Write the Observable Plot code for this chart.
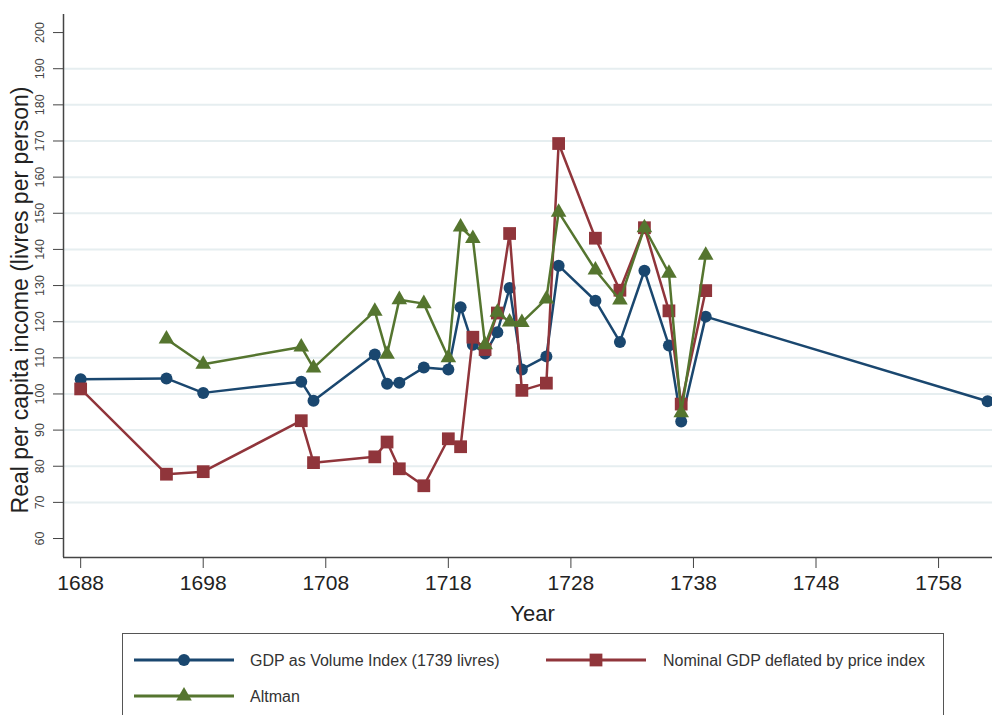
<!DOCTYPE html>
<html>
<head>
<meta charset="utf-8">
<script src="https://cdn.jsdelivr.net/npm/d3@7"></script>
<script src="https://cdn.jsdelivr.net/npm/@observablehq/plot@0.6"></script>
<style>
  html, body { margin: 0; padding: 0; background: #fff; }
  body { width: 992px; height: 715px; position: relative; overflow: hidden; font-family: "Liberation Sans", Arial, sans-serif; }
  #legend { position: absolute; left: 122px; top: 633px; width: 822px; height: 120px; border: 1px solid #555; box-sizing: border-box; background: #fff; }
</style>
</head>
<body>
<div id="chart"></div>
<div id="legend"></div>
<script>
// ---- data ----
const years = [1688,1695,1698,1706,1707,1712,1713,1714,1716,1718,1719,1720,1721,1722,1723,1724,1726,1727,1730,1732,1734,1736,1737,1739,1762];
const gdpVolume = [104.1,104.3,100.3,103.4,98.1,110.9,102.8,103.1,107.3,106.8,124,113.6,111.2,117.1,129.3,106.8,110.4,135.5,125.8,114.4,134.1,113.4,92.4,121.4,98];
const gdpDeflated = [101.4,77.8,78.5,92.6,81,82.6,86.7,79.3,74.6,87.6,85.4,115.7,112.3,122.4,144.4,101,103,169.3,143.1,128.7,146,123,97.2,128.6,null];
const altman = [null,115.2,108.2,113,107.2,122.9,111,126.1,125,110,146.2,143,113.6,122.6,119.9,119.8,126.3,150.3,134.3,126,146,133.4,94.8,138.4,null];

const seriesNames = ["GDP as Volume Index (1739 livres)", "Nominal GDP deflated by price index", "Altman"];
const seriesKeys = ["volume", "deflated", "altman"];
const seriesColors = ["#1a476f", "#90353b", "#55752f"];
const seriesSymbols = ["circle", "square", "triangle"];
const seriesR = [6, 7.2, 5.8];

const xTicks = [1688,1698,1708,1718,1728,1738,1748,1758];
const yTicks = [60,70,80,90,100,110,120,130,140,150,160,170,180,190,200];
const gridTicks = [70,80,90,100,110,120,130,140,150,160,170,180,190];
const xTitle = "Year";
const yTitle = "Real per capita income (livres per person)";

const xDomain = [1686.6, 1762.4];
const yDomain = [54.75, 205];

const rows = years.map((yr, i) => ({year: yr, volume: gdpVolume[i], deflated: gdpDeflated[i], altman: altman[i]}));

const seriesMarks = seriesKeys.flatMap((k, i) => {
  const d = rows.filter(r => r[k] != null);
  return [
    Plot.line(d, {x: "year", y: k, stroke: seriesColors[i], strokeWidth: 2.5}),
    Plot.dot(d, {x: "year", y: k, fill: seriesColors[i], symbol: seriesSymbols[i], r: seriesR[i], stroke: "none"})
  ];
});

const chart = Plot.plot({
  width: 992,
  height: 625,
  marginLeft: 63,
  marginRight: 0,
  marginTop: 14,
  marginBottom: 68,
  style: {fontFamily: "Liberation Sans, Arial, sans-serif", color: "#333", background: "#fff", overflow: "visible"},
  x: {domain: xDomain},
  y: {domain: yDomain},
  marks: [
    Plot.gridY(gridTicks, {stroke: "#e6eef0", strokeWidth: 2, strokeOpacity: 1}),
    Plot.ruleX([xDomain[0]], {stroke: "#444", strokeWidth: 1.5}),
    Plot.ruleY([yDomain[0]], {stroke: "#444", strokeWidth: 1.5}),
    Plot.axisY({ticks: yTicks, tickSize: 10, tickFormat: () => "", label: null, stroke: "#444"}),
    Plot.text(yTicks, {y: d => d, text: d => String(d), frameAnchor: "left", textAnchor: "middle", rotate: -90, dx: -23.5, lineAnchor: "middle", fontSize: 12.5, fill: "#444"}),
    Plot.axisX({ticks: xTicks, tickFormat: d => String(d), tickSize: 11, tickPadding: 7, fontSize: 21, label: null, stroke: "#444", fill: "#222"}),
    Plot.text([xTitle], {frameAnchor: "bottom", textAnchor: "middle", dx: 4.5, dy: 63, lineAnchor: "bottom", fontSize: 22, fill: "#222"}),
    Plot.text([yTitle], {frameAnchor: "left", textAnchor: "middle", rotate: -90, dx: -36, dy: 14, lineAnchor: "bottom", fontSize: 23, fill: "#222"}),
    ...seriesMarks
  ]
});
document.getElementById("chart").appendChild(chart);

// ---- legend ----
const legendPos = [
  {keyX: 11, textX: 127, cy: 26},
  {keyX: 423, textX: 540, cy: 26},
  {keyX: 11, textX: 127, cy: 62}
];
const lsvg = d3.select("#legend").append("svg").attr("width", 820).attr("height", 118)
  .style("font-family", "Liberation Sans, Arial, sans-serif");
seriesNames.forEach((name, i) => {
  const p = legendPos[i];
  const g = lsvg.append("g");
  g.append("line").attr("x1", p.keyX).attr("x2", p.keyX + 100).attr("y1", p.cy).attr("y2", p.cy)
    .attr("stroke", seriesColors[i]).attr("stroke-width", 3);
  const sym = {circle: d3.symbolCircle, square: d3.symbolSquare, triangle: d3.symbolTriangle}[seriesSymbols[i]];
  g.append("path").attr("d", d3.symbol(sym, Math.PI * seriesR[i] * seriesR[i])())
    .attr("transform", `translate(${p.keyX + 50},${p.cy})`).attr("fill", seriesColors[i]);
  g.append("text").attr("x", p.textX).attr("y", p.cy).attr("dy", "0.35em")
    .attr("font-size", 16).attr("fill", "#333").text(name);
});
</script>
</body>
</html>
